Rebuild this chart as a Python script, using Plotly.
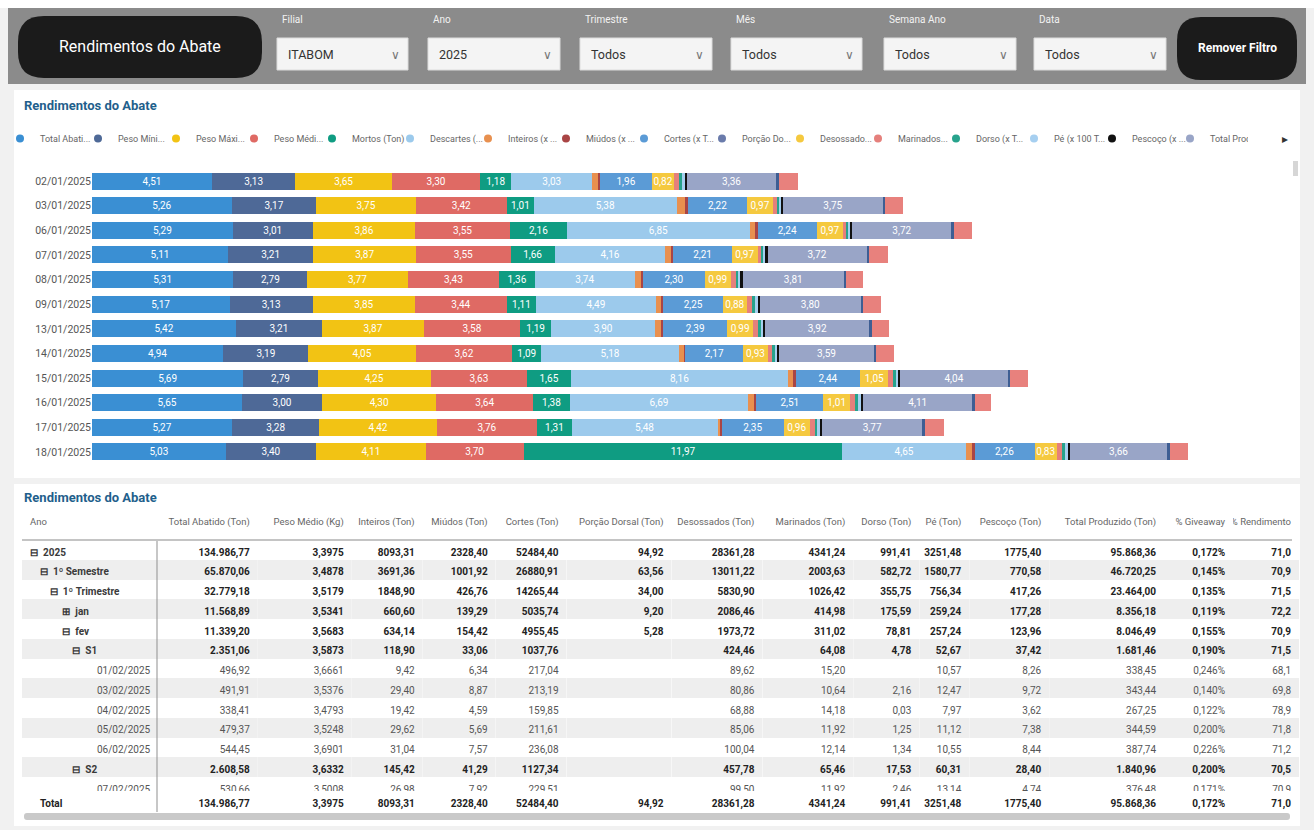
import plotly.graph_objects as go

W, H = 1314, 830
def px(x): return x / W
def py(y): return 1 - y / H

FONT = "Roboto, Liberation Sans, sans-serif"

# ---------------- bar chart data ----------------
dates = ["02/01/2025", "03/01/2025", "06/01/2025", "07/01/2025", "08/01/2025", "09/01/2025",
         "13/01/2025", "14/01/2025", "15/01/2025", "16/01/2025", "17/01/2025", "18/01/2025"]
total_abatido = [4.51, 5.26, 5.29, 5.11, 5.31, 5.17, 5.42, 4.94, 5.69, 5.65, 5.27, 5.03]
peso_minimo = [3.13, 3.17, 3.01, 3.21, 2.79, 3.13, 3.21, 3.19, 2.79, 3.00, 3.28, 3.40]
peso_maximo = [3.65, 3.75, 3.86, 3.87, 3.77, 3.85, 3.87, 4.05, 4.25, 4.30, 4.42, 4.11]
peso_medio = [3.30, 3.42, 3.55, 3.55, 3.43, 3.44, 3.58, 3.62, 3.63, 3.64, 3.76, 3.70]
mortos = [1.18, 1.01, 2.16, 1.66, 1.36, 1.11, 1.19, 1.09, 1.65, 1.38, 1.31, 11.97]
descartes = [3.03, 5.38, 6.85, 4.16, 3.74, 4.49, 3.90, 5.18, 8.16, 6.69, 5.48, 4.65]
inteiros = [0.24, 0.32, 0.24, 0.23, 0.26, 0.23, 0.25, 0.19, 0.22, 0.26, 0.12, 0.26]
miudos = [0.06, 0.10, 0.06, 0.06, 0.07, 0.06, 0.06, 0.05, 0.06, 0.06, 0.03, 0.06]
cortes = [1.96, 2.22, 2.24, 2.21, 2.30, 2.25, 2.39, 2.17, 2.44, 2.51, 2.35, 2.26]
porcao_dorsal = [0.00, 0.00, 0.00, 0.00, 0.00, 0.00, 0.00, 0.00, 0.00, 0.00, 0.00, 0.00]
desossados = [0.82, 0.97, 0.97, 0.97, 0.99, 0.88, 0.99, 0.93, 1.05, 1.01, 0.96, 0.83]
marinados = [0.20, 0.14, 0.13, 0.14, 0.18, 0.20, 0.18, 0.16, 0.18, 0.20, 0.19, 0.20]
dorso = [0.12, 0.09, 0.08, 0.08, 0.10, 0.12, 0.10, 0.09, 0.10, 0.11, 0.10, 0.12]
pe = [0.09, 0.07, 0.07, 0.07, 0.08, 0.10, 0.09, 0.08, 0.09, 0.10, 0.10, 0.10]
pescoco = [0.08, 0.08, 0.08, 0.08, 0.08, 0.08, 0.08, 0.08, 0.08, 0.08, 0.08, 0.08]
total_produzido = [3.36, 3.75, 3.72, 3.72, 3.81, 3.80, 3.92, 3.59, 4.04, 4.11, 3.77, 3.66]
giveaway = [0.10, 0.10, 0.10, 0.10, 0.08, 0.08, 0.08, 0.08, 0.08, 0.08, 0.10, 0.08]
rendimento = [0.73, 0.65, 0.69, 0.69, 0.65, 0.68, 0.67, 0.68, 0.67, 0.63, 0.73, 0.71]

series = [
    ("Total Abati...", total_abatido, "#3a8fd3", True, True),
    ("Peso Míni...", peso_minimo, "#4e6997", True, True),
    ("Peso Máxi...", peso_maximo, "#f2c314", True, True),
    ("Peso Médi...", peso_medio, "#df6a64", True, True),
    ("Mortos (Ton)", mortos, "#0f9c82", True, True),
    ("Descartes (...", descartes, "#9ccaec", True, True),
    ("Inteiros (x ...", inteiros, "#e8904f", False, True),
    ("Miúdos (x ...", miudos, "#a94545", False, True),
    ("Cortes (x T...", cortes, "#5b9bd6", True, True),
    ("Porção Do...", porcao_dorsal, "#6a7bab", False, True),
    ("Desossado...", desossados, "#f5c93f", True, True),
    ("Marinados...", marinados, "#e5807c", False, True),
    ("Dorso (x T...", dorso, "#27a38c", False, True),
    ("Pé (x 100 T...", pe, "#a6cff0", False, True),
    ("Pescoço (x ...", pescoco, "#111111", False, True),
    ("Total Prod...", total_produzido, "#99a5c7", True, True),
    ("% Giveaway", giveaway, "#3e5e93", False, False),
    ("% Rendimento", rendimento, "#e8817d", False, False),
]

def fmt(v):
    return f"{v:.2f}".replace(".", ",")

CLEAR = "rgba(0,0,0,0)"
fig = go.Figure()
for name, vals, color, labeled, inleg in series:
    fig.add_trace(go.Bar(
        y=dates, x=vals, orientation="h", name=name, marker=dict(color=color, line=dict(width=0)),
        text=[fmt(v) for v in vals] if labeled else None,
        textposition="inside" if labeled else "none", insidetextanchor="middle",
        textfont=dict(color="white", size=10, family=FONT), textangle=0,
        showlegend=False, hoverinfo="skip", legendgroup=name,
    ))
for name, vals, color, labeled, inleg in series:
    if inleg:
        fig.add_trace(go.Scatter(
            x=[None], y=[None], mode="markers", name=name, legendgroup=name,
            marker=dict(color=color, size=8, symbol="circle"), hoverinfo="skip",
        ))
# blank spacer entry so the last legend label is not clipped
fig.add_trace(go.Scatter(x=[None], y=[None], mode="markers", name="\u00a0",
                         marker=dict(color=CLEAR, size=1), hoverinfo="skip"))

# ---------------- table data ----------------
table_header = ["Ano", "Total Abatido (Ton)", "Peso Médio (Kg)", "Inteiros (Ton)", "Miúdos (Ton)",
                "Cortes (Ton)", "Porção Dorsal (Ton)", "Desossados (Ton)", "Marinados (Ton)",
                "Dorso (Ton)", "Pé (Ton)", "Pescoço (Ton)", "Total Produzido (Ton)",
                "% Giveaway", "% Rendimento"]
row_labels = ["2025", "1º Semestre", "1º Trimestre", "jan", "fev", "S1", "01/02/2025", "03/02/2025",
              "04/02/2025", "05/02/2025", "06/02/2025", "S2", "07/02/2025"]
row_levels = [0, 1, 2, 3, 3, 4, None, None, None, None, None, 4, None]
row_boxes = ["⊟", "⊟", "⊟", "⊞", "⊟", "⊟", "", "", "", "", "", "⊟", ""]
col_total_abatido = ["134.986,77", "65.870,06", "32.779,18", "11.568,89", "11.339,20", "2.351,06",
                     "496,92", "491,91", "338,41", "479,37", "544,45", "2.608,58", "530,66"]
col_peso_medio = ["3,3975", "3,4878", "3,5179", "3,5341", "3,5683", "3,5873", "3,6661", "3,5376",
                  "3,4793", "3,5248", "3,6901", "3,6332", "3,5008"]
col_inteiros = ["8093,31", "3691,36", "1848,90", "660,60", "634,14", "118,90", "9,42", "29,40",
                "19,42", "29,62", "31,04", "145,42", "26,98"]
col_miudos = ["2328,40", "1001,92", "426,76", "139,29", "154,42", "33,06", "6,34", "8,87", "4,59",
              "5,69", "7,57", "41,29", "7,92"]
col_cortes = ["52484,40", "26880,91", "14265,44", "5035,74", "4955,45", "1037,76", "217,04", "213,19",
              "159,85", "211,61", "236,08", "1127,34", "229,51"]
col_porcao = ["94,92", "63,56", "34,00", "9,20", "5,28", "", "", "", "", "", "", "", ""]
col_desossados = ["28361,28", "13011,22", "5830,90", "2086,46", "1973,72", "424,46", "89,62", "80,86",
                  "68,88", "85,06", "100,04", "457,78", "99,50"]
col_marinados = ["4341,24", "2003,63", "1026,42", "414,98", "311,02", "64,08", "15,20", "10,64",
                 "14,18", "11,92", "12,14", "65,46", "11,92"]
col_dorso = ["991,41", "582,72", "355,75", "175,59", "78,81", "4,78", "", "2,16", "0,03", "1,25",
             "1,34", "17,53", "2,46"]
col_pe = ["3251,48", "1580,77", "756,34", "259,24", "257,24", "52,67", "10,57", "12,47", "7,97",
          "11,12", "10,55", "60,31", "13,14"]
col_pescoco = ["1775,40", "770,58", "417,26", "177,28", "123,96", "37,42", "8,26", "9,72", "3,62",
               "7,38", "8,44", "28,40", "4,74"]
col_total_produzido = ["95.868,36", "46.720,25", "23.464,00", "8.356,18", "8.046,49", "1.681,46",
                       "338,45", "343,44", "267,25", "344,59", "387,74", "1.840,96", "376,48"]
col_giveaway = ["0,172%", "0,145%", "0,135%", "0,119%", "0,155%", "0,190%", "0,246%", "0,140%",
                "0,122%", "0,200%", "0,226%", "0,200%", "0,171%"]
col_rendimento = ["71,0", "70,9", "71,5", "72,2", "70,9", "71,5", "68,1", "69,8", "78,9", "71,8",
                  "71,2", "70,5", "70,9"]
total_row = ["Total", "134.986,77", "3,3975", "8093,31", "2328,40", "52484,40", "94,92", "28361,28",
             "4341,24", "991,41", "3251,48", "1775,40", "95.868,36", "0,172%", "71,0"]

value_cols = [col_total_abatido, col_peso_medio, col_inteiros, col_miudos, col_cortes, col_porcao,
              col_desossados, col_marinados, col_dorso, col_pe, col_pescoco, col_total_produzido,
              col_giveaway, col_rendimento]

NB = "\u00a0"
def nb(s):
    return s.replace(" ", NB)

indent_nb = [0, 4, 8, 13, 17]
is_agg = [lv is not None for lv in row_levels]
first_col = []
for lab, lv, box in zip(row_labels, row_levels, row_boxes):
    if lv is None:
        first_col.append(NB * 27 + lab)
    else:
        first_col.append(NB * indent_nb[lv] + box + NB * 2 + nb(lab))
all_cols = [first_col] + value_cols
nrows = len(row_labels)
agg_cols = [[v if a else "" for v, a in zip(col, is_agg)] for col in all_cols]
leaf_cols = [["" if a else v for v, a in zip(col, is_agg)] for col in all_cols]
band = ["rgba(0,0,0,0)" if i % 2 == 0 else "rgba(0,0,0,0.065)" for i in range(nrows)]
colwidths = [135, 101, 94, 71, 73, 71, 105, 91, 91, 66, 50, 80, 115, 69, 66]
ALIGN = ["left"] + ["right"] * 14
DOM_X = [px(22), px(1300)]
DOM_Y = [py(791), py(510)]

# header + bold aggregate rows (with row bands)
fig.add_trace(go.Table(
    domain=dict(x=DOM_X, y=DOM_Y), columnwidth=colwidths,
    header=dict(values=[nb(h) for h in table_header], align=ALIGN, height=30,
                font=dict(size=9.5, color="#666666", family=FONT),
                fill=dict(color=CLEAR), line=dict(width=0, color=CLEAR)),
    cells=dict(values=agg_cols, align=ALIGN, height=19.75,
               font=dict(size=10, color=["#3a3a3a"] + ["#222222"] * 14, weight=700, family=FONT),
               fill=dict(color=[band] * 15), line=dict(width=0, color=CLEAR)),
))
# leaf (daily) rows
fig.add_trace(go.Table(
    domain=dict(x=DOM_X, y=DOM_Y), columnwidth=colwidths,
    header=dict(values=[""] * 15, align=ALIGN, height=30,
                fill=dict(color=CLEAR), line=dict(width=0, color=CLEAR)),
    cells=dict(values=leaf_cols, align=ALIGN, height=19.75,
               font=dict(size=10, color="#555555", weight=400, family=FONT),
               fill=dict(color=CLEAR), line=dict(width=0, color=CLEAR)),
))
# total row
fig.add_trace(go.Table(
    domain=dict(x=DOM_X, y=[py(812), py(791)]), columnwidth=colwidths,
    header=dict(values=[NB * 4 + total_row[0]] + total_row[1:], align=ALIGN, height=20,
                font=dict(size=10, color="#222222", family=FONT, weight=700),
                fill=dict(color=CLEAR), line=dict(width=0, color=CLEAR)),
    cells=dict(values=[]),
))

# ---------------- decorations ----------------
def rrect(x0, y0, x1, y1, r):
    def P(x, y): return f"{px(x):.5f},{py(y):.5f}"
    return (f"M {P(x0 + r, y0)} L {P(x1 - r, y0)} Q {P(x1, y0)} {P(x1, y0 + r)} "
            f"L {P(x1, y1 - r)} Q {P(x1, y1)} {P(x1 - r, y1)} L {P(x0 + r, y1)} "
            f"Q {P(x0, y1)} {P(x0, y1 - r)} L {P(x0, y0 + r)} Q {P(x0, y0)} {P(x0 + r, y0)} Z")

def rect(x0, y0, x1, y1, fill, line=CLEAR, layer="below", lw=0):
    return dict(type="rect", xref="paper", yref="paper", x0=px(x0), x1=px(x1), y0=py(y1), y1=py(y0),
                fillcolor=fill, line=dict(color=line, width=lw), layer=layer)

shapes = [
    rect(0, 0, 1314, 8, "white"),
    rect(8, 8, 1306, 84, "#8b8b8b"),
    dict(type="path", xref="paper", yref="paper", path=rrect(18, 16, 262, 78, 26),
         fillcolor="#1b1b1b", line=dict(width=0), layer="below"),
    dict(type="path", xref="paper", yref="paper", path=rrect(1177, 17, 1297, 80, 24),
         fillcolor="#1b1b1b", line=dict(width=0), layer="below"),
    rect(14, 90, 1300, 478, "white"),
    rect(14, 484, 1300, 826, "white"),
    dict(type="line", xref="paper", yref="paper", x0=px(22), x1=px(1292), y0=py(540), y1=py(540),
         line=dict(color="#c4c4c4", width=2), layer="above"),
    dict(type="line", xref="paper", yref="paper", x0=px(157), x1=px(157), y0=py(541), y1=py(812),
         line=dict(color="#8f8f8f", width=1), layer="above"),
    dict(type="path", xref="paper", yref="paper", path=rrect(24, 813, 1290, 820, 3),
         fillcolor="#c9c9c9", line=dict(width=0), layer="above"),
    rect(1293, 161, 1298, 176, "#d6d6d6"),
]

filters = [("Filial", "ITABOM", 277, 408), ("Ano", "2025", 428, 560), ("Trimestre", "Todos", 580, 712),
           ("Mês", "Todos", 731, 862), ("Semana Ano", "Todos", 884, 1016), ("Data", "Todos", 1034, 1166)]
annotations = [
    dict(text="Rendimentos do Abate", x=px(140), y=py(47), xanchor="center",
         font=dict(size=16, color="white", family=FONT)),
    dict(text="<b>Remover Filtro</b>", x=px(1237), y=py(48), xanchor="center",
         font=dict(size=12, color="white", family=FONT)),
    dict(text="<b>Rendimentos do Abate</b>", x=px(22), y=py(105), xanchor="left",
         font=dict(size=13, color="#1f5f8c", family=FONT)),
    dict(text="<b>Rendimentos do Abate</b>", x=px(22), y=py(497), xanchor="left",
         font=dict(size=13, color="#1f5f8c", family=FONT)),
    dict(text="▸", x=px(1285), y=py(139), xanchor="center", font=dict(size=12, color="#333333")),
]
for lab, val, x0, x1 in filters:
    shapes.append(rect(x0, 38, x1, 70, "#f4f4f4", line="#dcdcdc", lw=1))
    annotations.append(dict(text=lab, x=px(x0 + 3), y=py(19), xanchor="left",
                            font=dict(size=10, color="#f2f2f2", family=FONT)))
    annotations.append(dict(text=val, x=px(x0 + 9), y=py(54), xanchor="left",
                            font=dict(size=12.5, color="#333333", family=FONT)))
    annotations.append(dict(text="∨", x=px(x1 - 13), y=py(55), xanchor="center",
                            font=dict(size=12, color="#777777", family="DejaVu Sans")))
for a in annotations:
    a.update(xref="paper", yref="paper", showarrow=False, yanchor="middle")

fig.update_layout(
    width=W, height=H, margin=dict(l=0, r=0, t=0, b=0),
    paper_bgcolor="#f1f1f1", plot_bgcolor=CLEAR,
    barmode="stack", bargap=0.31,
    font=dict(family=FONT),
    uniformtext=dict(minsize=10, mode="show"),
    xaxis=dict(domain=[px(92), px(1290)], range=[0, 45.04], showgrid=False, zeroline=False,
               showticklabels=False, showline=False, fixedrange=True),
    yaxis=dict(domain=[py(464.3), py(168.7)], type="category", categoryorder="array",
               categoryarray=dates, autorange="reversed", showgrid=False, zeroline=False,
               tickfont=dict(size=10.5, color="#555555", family=FONT), ticks="", showline=False),
    legend=dict(orientation="h", x=0, y=py(124), xanchor="left", yanchor="top",
                font=dict(size=9, color="#666666", family=FONT), itemwidth=30,
                entrywidth=33, entrywidthmode="pixels", bgcolor=CLEAR,
                tracegroupgap=0, itemclick=False, itemdoubleclick=False),
    shapes=shapes, annotations=annotations,
)

fig.write_html("out.html", config={"displayModeBar": False},
               post_script="document.body.style.margin='0px';document.body.style.overflow='hidden';")
